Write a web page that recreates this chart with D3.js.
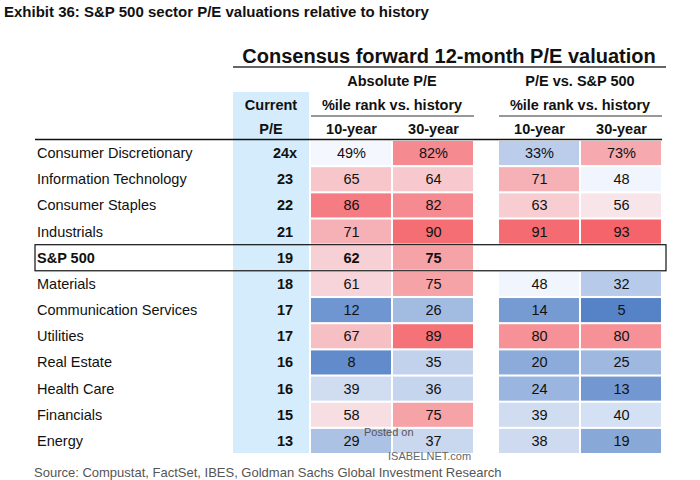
<!DOCTYPE html><html><head><meta charset="utf-8">
<script src="https://cdn.jsdelivr.net/npm/d3@7"></script>
<style>body{margin:0;background:#fff}svg{display:block}text{font-family:"Liberation Sans Narrow","Liberation Sans",Arial,sans-serif}</style></head><body>
<svg id="c" width="700" height="480"></svg>
<script>
const sectors=["Consumer Discretionary","Information Technology","Consumer Staples","Industrials","S&P 500","Materials","Communication Services","Utilities","Real Estate","Health Care","Financials","Energy"];
const currentPE=["24x","23","22","21","19","18","17","17","16","16","15","13"];
const abs10=[49,65,86,71,62,61,12,67,8,39,58,29];
const abs30=[82,64,82,90,75,75,26,89,35,36,75,37];
const rel10=[33,71,63,91,null,48,14,80,20,24,39,38];
const rel30=[73,48,56,93,null,32,5,80,25,13,40,19];
const colHeads=["10-year","30-year","10-year","30-year"];

const svg=d3.select("#c");
const color=d3.scaleLinear().domain([5,50,93]).range(["#5683c7","#f8faff","#f4646a"]);
const y=d3.scaleBand().domain(sectors).range([141,453]).paddingInner(0.08).paddingOuter(0);
const cols=[{x:311,w:81,d:abs10},{x:393,w:81,d:abs30},{x:499,w:81,d:rel10},{x:581,w:81,d:rel30}];
const T=(x,yy,s,o={})=>svg.append("text").attr("x",x).attr("y",yy).text(s).attr("font-size",o.fs||14.5).attr("font-weight",o.fw||"normal").attr("text-anchor",o.a||"start").attr("fill",o.c||"#111");

T(4,17,"Exhibit 36: S&P 500 sector P/E valuations relative to history",{fs:15,fw:"bold"});
svg.append("rect").attr("x",233).attr("y",92).attr("width",76).attr("height",361).attr("fill","#d4ecfb");
T(449,63,"Consensus forward 12-month P/E valuation",{fs:20,fw:"bold",a:"middle"});
svg.append("line").attr("x1",233).attr("x2",666).attr("y1",67).attr("y2",67).attr("stroke","#333").attr("stroke-width",1.5);
T(392,86,"Absolute P/E",{fw:"bold",a:"middle"});
T(580,86,"P/E vs. S&P 500",{fw:"bold",a:"middle"});
T(271,110,"Current",{fw:"bold",a:"middle"});T(271,134,"P/E",{fw:"bold",a:"middle"});
T(392,110,"%ile rank vs. history",{fw:"bold",a:"middle"});
T(580,110,"%ile rank vs. history",{fw:"bold",a:"middle"});
[[311,474],[499,662]].forEach(([a,b])=>svg.append("line").attr("x1",a).attr("x2",b).attr("y1",116).attr("y2",116).attr("stroke","#333").attr("stroke-width",1.2));
cols.forEach((c,i)=>T(c.x+c.w/2,134,colHeads[i],{fw:"bold",a:"middle"}));
svg.append("line").attr("x1",35).attr("x2",662).attr("y1",139.5).attr("y2",139.5).attr("stroke","#111").attr("stroke-width",1.5);

cols.forEach((c)=>{
  sectors.forEach((s,i)=>{
    const v=c.d[i]; if(v==null) return;
    svg.append("rect").attr("x",c.x).attr("y",y(s)).attr("width",c.w-1).attr("height",y.bandwidth()).attr("fill",color(v));
    T(c.x+c.w/2,y(s)+y.bandwidth()/2+5,(i===0?v+"%":v),{a:"middle",fw:s==="S&P 500"?"bold":"normal",fs:14.5});
  });
});
sectors.forEach((s,i)=>{
  const cy=y(s)+y.bandwidth()/2+5;
  T(37,cy,s,{fw:s==="S&P 500"?"bold":"normal"});
  T(285,cy,currentPE[i],{fw:"bold",a:"middle"});
});
const sp=y("S&P 500");
svg.append("rect").attr("x",35).attr("y",sp-1).attr("width",631).attr("height",y.bandwidth()+2).attr("fill","none").attr("stroke","#111").attr("stroke-width",1.2);
svg.append("text").attr("x",364).attr("y",436).text("Posted on").attr("font-size",11).attr("fill","#555");
svg.append("text").attr("x",388).attr("y",460).text("ISABELNET.com").attr("font-size",11).attr("fill","#666");
T(34,477,"Source: Compustat, FactSet, IBES, Goldman Sachs Global Investment Research",{fs:13,c:"#555"});
</script></body></html>
